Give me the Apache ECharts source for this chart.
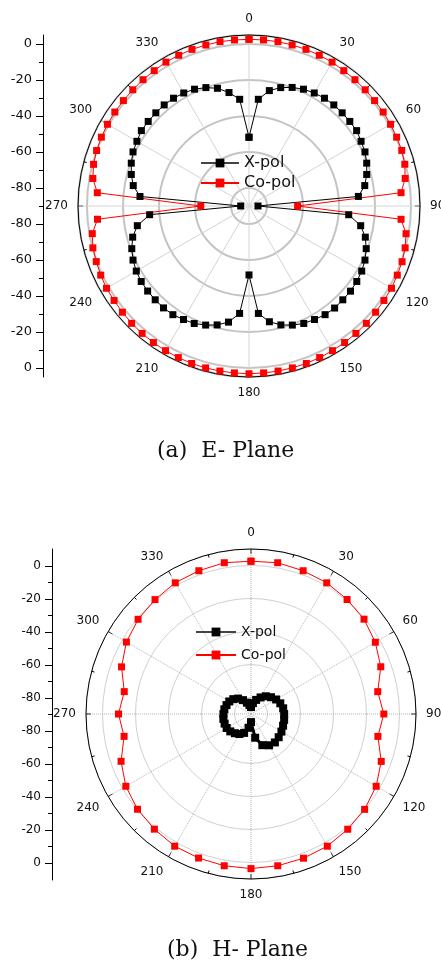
<!DOCTYPE html>
<html>
<head>
<meta charset="utf-8">
<script src="https://cdn.jsdelivr.net/npm/echarts@6/dist/echarts.min.js"></script>
<style>
  html, body { margin: 0; padding: 0; background: #fff; }
  #chart { width: 441px; height: 967px; }
</style>
</head>
<body>
<div id="chart"></div>
<script>
// ---------- DATA ----------
// E-plane: angle in degrees (every 5°), gain in dB
var eAngles = [0,5,10,15,20,25,30,35,40,45,50,55,60,65,70,75,80,85,90,95,100,105,110,115,120,125,130,135,140,145,150,155,160,165,170,175,
               180,185,190,195,200,205,210,215,220,225,230,235,240,245,250,255,260,265,270,275,280,285,290,295,300,305,310,315,320,325,330,335,340,345,350,355,360];
var eXpol = [-51.8,-30.5,-24.9,-21.9,-19.9,-18.4,-17.5,-16.9,-16.7,-16.8,-16.9,-17.0,-18.1,-18.9,-20.4,-22.3,-24.7,-29.0,-85.0,-34.4,-27.0,-23.1,-20.7,-18.9,-17.7,-16.9,-16.4,-16.3,-16.0,-16.3,-17.2,-18.0,-19.6,-21.6,-24.7,-30.1,
             -51.7,-30.1,-24.5,-21.6,-19.6,-18.0,-17.2,-16.3,-16.1,-16.3,-16.5,-16.9,-17.7,-18.9,-20.7,-23.1,-27.0,-34.6,-85.4,-29.2,-24.7,-22.3,-20.4,-18.9,-18.1,-17.0,-16.9,-16.8,-16.7,-16.9,-17.5,-18.4,-20.0,-22.3,-26.0,-30.5,-51.8];
var eCopol = [2.6,2.6,2.7,2.6,2.6,2.4,2.3,1.8,1.6,1.3,1.1,1.0,0.8,0.5,0.3,-0.4,-1.9,-5.2,-63.0,-5.2,-1.4,-0.2,0.5,0.9,1.4,1.5,1.8,2.2,2.4,2.6,2.8,2.9,3.1,3.1,3.1,3.1,
              3.2,3.1,3.1,3.1,3.1,2.9,2.8,2.6,2.4,2.2,1.8,1.5,1.4,0.9,0.3,-0.2,-1.6,-5.5,-63.2,-5.4,-1.9,-0.6,0.1,0.5,0.8,1.0,1.1,1.3,1.6,1.8,2.3,2.4,2.6,2.6,2.7,2.6,2.6];

// H-plane: angle in degrees (every 10°), gain in dB
var hAngles = [0,10,20,30,40,50,60,70,80,90,100,110,120,130,140,150,160,170,180,190,200,210,220,230,240,250,260,270,280,290,300,310,320,330,340,350,360];
var hXpol = [-85.7,-83.3,-80.9,-78.4,-76.0,-74.2,-72.4,-71.1,-70.2,-69.9,-69.6,-69.3,-68.7,-68.1,-67.5,-68.1,-69.9,-75.4,
             -85.1,-81.5,-77.8,-76.0,-74.8,-73.6,-73.0,-73.0,-73.0,-73.3,-73.6,-74.2,-74.8,-76.0,-77.8,-80.3,-82.7,-84.5,-85.7];
var hCopol = [2.6,3.1,2.4,1.8,0.6,-0.6,-3.0,-6.3,-12.0,-9.5,-11.9,-6.0,-2.4,-0.1,1.2,2.5,3.0,3.4,
              3.7,3.4,2.9,2.5,1.1,-0.2,-2.4,-6.2,-11.9,-9.7,-12.0,-6.5,-2.8,-0.7,0.5,1.8,2.4,3.1,2.6];

var seriesNames = ['X-pol', 'Co-pol'];
var angleTicks = [0, 30, 60, 90, 120, 150, 180, 210, 240, 270, 300, 330];
var captions = ['(a)  E- Plane', '(b)  H- Plane'];

// ---------- CHART ----------
var FONT = '"DejaVu Sans", Arial, sans-serif';
function pairs(vals, angs) { return vals.map(function (v, i) { return [v, angs[i]]; }); }

function angleAxis(idx, dotted, spokeColor) {
  return {
    polarIndex: idx, type: 'value', min: 0, max: 360, interval: 30,
    startAngle: 90, clockwise: true,
    axisLine: { show: true, lineStyle: { color: '#000', width: 1 } },
    axisTick: { show: true, inside: true, length: 5, lineStyle: { color: '#000' } },
    minorTick: { show: true, splitNumber: 2, length: 3, lineStyle: { color: '#000' } },
    axisLabel: { show: true, margin: 10, fontSize: 12, fontFamily: FONT, color: '#111',
      formatter: function (v) { return angleTicks.indexOf(v) >= 0 ? String(v) : ''; } },
    splitLine: { show: true, lineStyle: { color: spokeColor, width: 1, type: dotted ? 'dotted' : 'solid' } },
    minorSplitLine: { show: false }
  };
}
function radiusAxis(idx, max, circleColor, circleWidth) {
  return {
    polarIndex: idx, type: 'value', min: -90, max: max, splitNumber: 5,
    axisLine: { show: false }, axisTick: { show: false }, axisLabel: { show: false },
    splitLine: { show: true, lineStyle: { color: circleColor, width: circleWidth } }
  };
}

function lineAxis(gridIdx, lim) {
  return { gridIndex: gridIdx, type: 'value', min: -lim, max: lim,
    axisLine: { show: true, lineStyle: { color: '#000', width: 1 } },
    axisTick: { show: false }, axisLabel: { show: false }, splitLine: { show: false } };
}
function tickAxis(gridIdx, fontSize) {
  return { gridIndex: gridIdx, type: 'value', min: 0, max: 180, interval: 20,
    axisLine: { show: false },
    axisTick: { show: true, length: 7, lineStyle: { color: '#000' } },
    minorTick: { show: true, splitNumber: 2, length: 4, lineStyle: { color: '#000' } },
    axisLabel: { show: true, margin: 11, fontSize: fontSize, fontFamily: FONT, color: '#111',
      formatter: function (u) { return String(Math.abs(u - 90) - 90); } },
    splitLine: { show: false }, minorSplitLine: { show: false } };
}
function hiddenX(gridIdx) {
  return { gridIndex: gridIdx, type: 'value', show: false, min: 0, max: 1 };
}

var legendData = [
  { name: seriesNames[0], lineStyle: { color: '#444' } },
  { name: seriesNames[1] }
];

var option = {
  animation: false,
  backgroundColor: '#fff',
  polar: [
    { center: [249, 206], radius: 171 },
    { center: [251, 714], radius: 165 }
  ],
  angleAxis: [angleAxis(0, false, '#d4d4d4'), angleAxis(1, true, '#b4b4b4')],
  radiusAxis: [radiusAxis(0, 5, '#c4c4c4', 2), radiusAxis(1, 10, '#d0d0d0', 1)],
  grid: [
    { left: 43, top: 35, height: 342, width: 10 },
    { left: 43, top: 44, height: 324, width: 10 },
    { left: 52, top: 549, height: 331, width: 10 },
    { left: 52, top: 566, height: 297, width: 10 }
  ],
  xAxis: [hiddenX(0), hiddenX(1), hiddenX(2), hiddenX(3)],
  yAxis: [lineAxis(0, 95), tickAxis(1, 13), lineAxis(2, 100), tickAxis(3, 12)],
  legend: [
    { data: legendData, orient: 'vertical', left: 200, top: 155, padding: 0,
      itemWidth: 38, itemHeight: 11, itemGap: 4,
      textStyle: { fontSize: 16, fontFamily: FONT, color: '#111' } },
    { data: legendData, orient: 'vertical', left: 195, top: 625, padding: 0,
      itemWidth: 40, itemHeight: 11, itemGap: 9,
      textStyle: { fontSize: 14, fontFamily: FONT, color: '#111' } }
  ],
  series: [
    { name: seriesNames[0], type: 'line', coordinateSystem: 'polar', polarIndex: 0,
      symbol: 'rect', symbolSize: 7, color: '#000', itemStyle: { color: '#000' },
      lineStyle: { color: '#000', width: 1 }, data: pairs(eXpol, eAngles) },
    { name: seriesNames[1], type: 'line', coordinateSystem: 'polar', polarIndex: 0,
      symbol: 'rect', symbolSize: 7, color: '#ff0000', itemStyle: { color: '#ff0000' },
      lineStyle: { color: '#ff0000', width: 1 }, data: pairs(eCopol, eAngles) },
    { name: seriesNames[0], type: 'line', coordinateSystem: 'polar', polarIndex: 1,
      symbol: 'rect', symbolSize: 8, color: '#000', itemStyle: { color: '#000' },
      lineStyle: { color: '#000', width: 3 }, data: pairs(hXpol, hAngles) },
    { name: seriesNames[1], type: 'line', coordinateSystem: 'polar', polarIndex: 1,
      symbol: 'rect', symbolSize: 7, color: '#ff0000', itemStyle: { color: '#ff0000' },
      lineStyle: { color: '#ff0000', width: 1 }, data: pairs(hCopol, hAngles) }
  ],
  graphic: [
    { type: 'text', left: 157, top: 440, style: { text: captions[0], font: '22px "DejaVu Serif", serif', fill: '#111' } },
    { type: 'text', left: 167, top: 939, style: { text: captions[1], font: '22px "DejaVu Serif", serif', fill: '#111' } }
  ]
};

var chart = echarts.init(document.getElementById('chart'), null, { renderer: 'canvas' });
chart.setOption(option);
</script>
</body>
</html>
